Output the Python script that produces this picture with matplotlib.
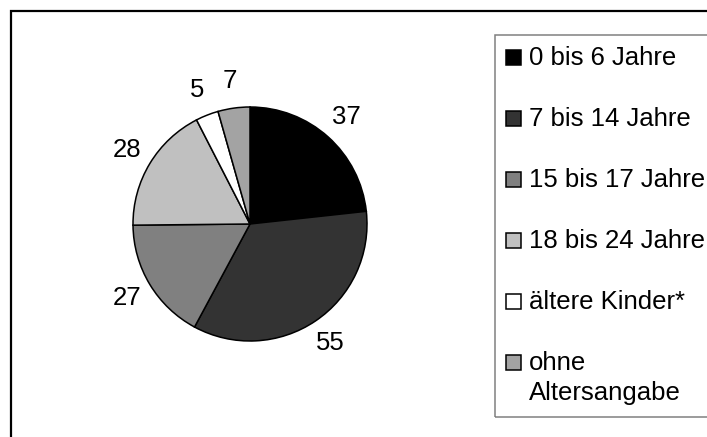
import matplotlib
matplotlib.use("Agg")
import matplotlib.pyplot as plt
from matplotlib.patches import Rectangle
import numpy as np

plt.rcParams['font.family'] = ['Liberation Sans', 'DejaVu Sans']

# Daten
labels = ['0 bis 6 Jahre', '7 bis 14 Jahre', '15 bis 17 Jahre',
          '18 bis 24 Jahre', 'ältere Kinder*', 'ohne\nAltersangabe']
values = [37, 55, 27, 28, 5, 7]
colors = ['#000000', '#333333', '#808080', '#c0c0c0', '#ffffff', '#a3a3a3']

W, H = 707, 437
fig = plt.figure(figsize=(W / 100, H / 100), dpi=100)
fig.patch.set_facecolor('white')


def px(x, y):
    """Pixel (von oben links) -> Figurkoordinaten."""
    return x / W, 1 - y / H


# äußerer Rahmen (rechts/unten abgeschnitten)
fig.patches.append(Rectangle(px(11, 445), (W + 20) / W, 434 / H,
                             transform=fig.transFigure, fill=False,
                             edgecolor='black', linewidth=1.6))

# Kreisdiagramm
cx, cy, r = 250, 224, 117
ax = fig.add_axes([(cx - r) / W, (H - cy - r) / H, 2 * r / W, 2 * r / H])
wedges, _ = ax.pie(values, colors=colors, startangle=90, counterclock=False,
                   wedgeprops=dict(edgecolor='black', linewidth=1.1))
ax.set_xlim(-1, 1)
ax.set_ylim(-1, 1)
ax.axis('off')

for w, v in zip(wedges, values):
    mid = np.deg2rad((w.theta1 + w.theta2) / 2)
    ax.text(1.23 * np.cos(mid), 1.23 * np.sin(mid), str(v),
            ha='center', va='center', fontsize=18.5)

# Legende (manuell, rechts abgeschnitten)
fig.patches.append(Rectangle(px(495, 417), (W + 20 - 495) / W, (417 - 35) / H,
                             transform=fig.transFigure, fill=False,
                             edgecolor='#808080', linewidth=1.1))
y0, dy = 57, 61
for i, (lab, col) in enumerate(zip(labels, colors)):
    yc = y0 + i * dy
    fig.patches.append(Rectangle(px(506, yc + 7.5), 15 / W, 15 / H,
                                 transform=fig.transFigure, facecolor=col,
                                 edgecolor='black', linewidth=1.1))
    fig.text(*px(529, yc - 11), lab, ha='left', va='top', fontsize=18.5,
             linespacing=1.3)

fig.savefig('out.png', dpi=100)
